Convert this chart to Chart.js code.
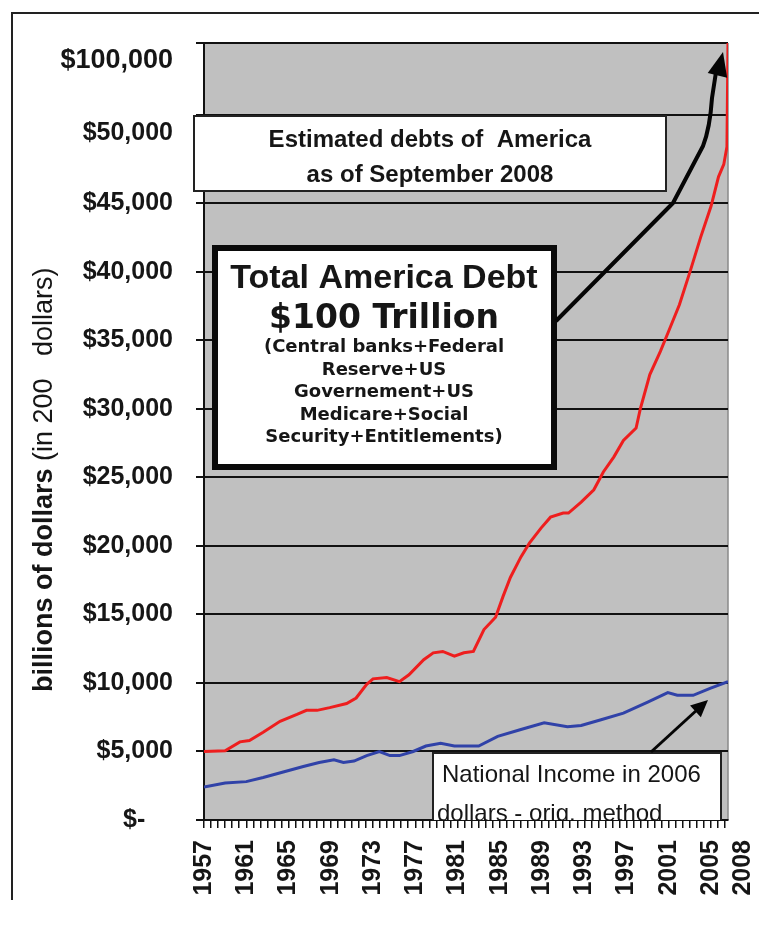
<!DOCTYPE html>
<html>
<head>
<meta charset="utf-8">
<script src="https://cdn.jsdelivr.net/npm/chart.js@4.4.1/dist/chart.umd.min.js"></script>
<style>
  html, body { margin: 0; padding: 0; background: #fff; }
  canvas { display: block; }
</style>
</head>
<body>
<canvas id="debtChart" width="759" height="925"></canvas>
<script>
// ==========================================
// Total America Debt vs National Income
// values in billions of dollars
// ==========================================

const debtYears = [1957, 1959, 1960.4, 1961.3, 1962.6, 1964.2, 1965.8, 1966.7, 1967.7, 1968.9,
    1970.5, 1971.4, 1972.4, 1973, 1974.3, 1975.5, 1976.4, 1977.8, 1978.7, 1979.6,
    1980.7, 1981.6, 1982.5, 1983.5, 1984.6, 1985.3, 1986, 1987, 1987.8, 1988.9,
    1989.8, 1991, 1991.5, 1992.7, 1993.9, 1994.8, 1995.8, 1996.7, 1997.9, 1998.3,
    1999.2, 2000.2, 2001, 2002, 2003, 2004, 2005, 2005.7, 2006.2, 2006.5, 2006.6];
const debtValues = [5000, 5050, 5700, 5800, 6400, 7200, 7700, 8000, 8000, 8200,
    8500, 8900, 9900, 10300, 10400, 10100, 10600, 11700, 12200, 12300,
    11950, 12200, 12300, 13900, 14800, 16300, 17700, 19200, 20200, 21300,
    22100, 22400, 22400, 23200, 24100, 25400, 26500, 27700, 28600, 30000,
    32500, 34200, 35700, 37600, 40000, 42500, 44800, 46500, 47200, 48200, 100000];

const incomeYears = [1957, 1959, 1961, 1962.6, 1964.5, 1966.4, 1967.9, 1969.3, 1970.2, 1971.2,
    1972.4, 1973.6, 1974.6, 1975.5, 1976.8, 1978, 1979.4, 1980.7, 1983, 1984.8,
    1987, 1989.2, 1991.4, 1992.7, 1994.5, 1996.7, 1999, 2000.9, 2001.8, 2003.3,
    2004.9, 2006.6];
const incomeValues = [2400, 2700, 2800, 3100, 3500, 3900, 4200, 4400, 4200, 4300,
    4700, 5000, 4700, 4700, 5000, 5400, 5600, 5400, 5400, 6100,
    6600, 7100, 6800, 6900, 7300, 7800, 8600, 9300, 9100, 9100,
    9600, 10100];

const yearLabels = ['1957', '1961', '1965', '1969', '1973', '1977', '1981', '1985',
    '1989', '1993', '1997', '2001', '2005', '2008'];
const gridValues = [0, 5000, 10000, 15000, 20000, 25000, 30000, 35000, 40000, 45000, 50000, 100000];
const valueLabels = ['$-', '$5,000', '$10,000', '$15,000', '$20,000', '$25,000', '$30,000',
    '$35,000', '$40,000', '$45,000', '$50,000', '$100,000'];

// value axis is broken above $45,000 (45k->50k and 50k->100k get squeezed)
const axisBreaks = [[0, 0], [45000, 9], [50000, 10.29], [100000, 11.34]];
const toAxis = (v) => {
    for (let i = 1; i < axisBreaks.length; i++) {
        const [v0, u0] = axisBreaks[i - 1];
        const [v1, u1] = axisBreaks[i];
        if (v <= v1 || i === axisBreaks.length - 1) return u0 + (v - v0) / (v1 - v0) * (u1 - u0);
    }
};

const SANS = "'Liberation Sans', Arial, sans-serif";
const WIDE = "'DejaVu Sans', Verdana, sans-serif";
const ink = '#161616';

// minor tick marks along the year axis + the odd 2008 label
const xTicks = [];
for (let k = 0; 1957 + k * 2 / 3 <= 2006.6 + 1e-6; k++) xTicks.push(1957 + k * 2 / 3);
xTicks.push(2008);

const noPadding = (s) => {
    s.paddingLeft = 0;
    s.paddingRight = 0;
    s.paddingTop = 0;
    s.paddingBottom = 0;
};

const arrowHead = (c, fx, fy, tx, ty, len, half) => {
    const d = Math.hypot(tx - fx, ty - fy);
    const ux = (tx - fx) / d, uy = (ty - fy) / d;
    const bx = tx - ux * len, by = ty - uy * len;
    c.beginPath();
    c.moveTo(tx, ty);
    c.lineTo(bx - uy * half, by + ux * half);
    c.lineTo(bx + uy * half, by - ux * half);
    c.closePath();
    c.fill();
};

// plot background + outer frame + y title
const decor = {
    id: 'decor',
    beforeDraw(chart) {
        const { ctx: c, chartArea: a } = chart;
        c.save();
        c.fillStyle = '#c0c0c0';
        c.fillRect(a.left, a.top, a.right - a.left, a.bottom - a.top);
        c.strokeStyle = '#8a8a8a';
        c.lineWidth = 1.5;
        c.beginPath();
        c.moveTo(a.right, a.top);
        c.lineTo(a.right, a.bottom);
        c.stroke();
        c.restore();
    },
    afterDraw(chart) {
        const c = chart.ctx;
        c.save();
        c.strokeStyle = '#222';
        c.lineWidth = 2;
        c.beginPath();
        c.moveTo(759, 13);
        c.lineTo(12, 13);
        c.lineTo(12, 900);
        c.stroke();

        c.translate(52, 692);
        c.rotate(-Math.PI / 2);
        c.fillStyle = ink;
        c.textAlign = 'left';
        c.textBaseline = 'alphabetic';
        c.font = 'bold 27px ' + SANS;
        const first = 'billions of dollars ';
        c.fillText(first, 0, 0);
        const w = c.measureText(first).width;
        c.font = '27px ' + SANS;
        c.fillText('(in 200   dollars)', w, 0);
        c.restore();
    }
};

// text boxes and arrows
const notes = {
    id: 'notes',
    afterDatasetsDraw(chart) {
        const { ctx: c, chartArea: a } = chart;
        c.save();
        c.fillStyle = ink;
        c.textAlign = 'center';
        c.textBaseline = 'alphabetic';

        // Estimated debts box
        c.fillStyle = '#fff';
        c.fillRect(193, 115, 474, 77);
        c.strokeStyle = '#222';
        c.lineWidth = 2;
        c.strokeRect(194, 116, 472, 75);
        c.fillStyle = ink;
        c.font = 'bold 24px ' + SANS;
        c.fillText('Estimated debts of  America', 430, 147);
        c.fillText('as of September 2008', 430, 182);

        // Total debt box
        c.fillStyle = '#fff';
        c.fillRect(212, 245, 345, 225);
        c.strokeStyle = '#0a0a0a';
        c.lineWidth = 6;
        c.strokeRect(215, 248, 339, 219);
        c.fillStyle = ink;
        c.font = 'bold 34px ' + SANS;
        c.fillText('Total America Debt', 384, 288);
        c.font = 'bold 33px ' + WIDE;
        c.fillText('$100 Trillion', 384, 328);
        c.font = 'bold 18px ' + WIDE;
        ['(Central banks+Federal', 'Reserve+US', 'Governement+US', 'Medicare+Social',
            'Security+Entitlements)'].forEach((t, i) => c.fillText(t, 384, 352 + i * 22.5));

        // National income box, cut off by the axis
        c.save();
        c.beginPath();
        c.rect(a.left, a.top, a.right - a.left, a.bottom - a.top);
        c.clip();
        c.fillStyle = '#fff';
        c.fillRect(432, 752, 290, 80);
        c.strokeStyle = '#222';
        c.lineWidth = 2;
        c.strokeRect(433, 753, 288, 80);
        c.fillStyle = ink;
        c.textAlign = 'left';
        c.font = '24px ' + SANS;
        c.fillText('National Income in 2006', 442, 782);
        c.fillText('dollars - orig. method', 437, 821);
        c.restore();

        // arrows
        c.strokeStyle = '#050505';
        c.fillStyle = '#050505';
        c.lineWidth = 4;
        c.lineJoin = 'round';
        c.beginPath();
        c.moveTo(556, 321);
        c.lineTo(673, 203);
        c.lineTo(703, 146);
        c.quadraticCurveTo(710, 128, 712, 98);
        c.lineTo(716, 72);
        c.stroke();
        arrowHead(c, 712, 98, 723, 52, 24, 10);

        c.lineWidth = 3;
        c.beginPath();
        c.moveTo(651, 752);
        c.lineTo(698, 709);
        c.stroke();
        arrowHead(c, 651, 752, 708, 700, 17, 8);
        c.restore();
    }
};

new Chart(document.getElementById('debtChart'), {
    type: 'line',
    data: {
        datasets: [{
            label: 'Total America Debt',
            data: debtYears.map((x, i) => ({ x, y: toAxis(debtValues[i]) })),
            borderColor: 'rgb(238, 30, 30)',
            borderWidth: 3,
            pointRadius: 0,
            tension: 0,
            xAxisID: 'x',
            yAxisID: 'yGrid'
        }, {
            label: 'National Income',
            data: incomeYears.map((x, i) => ({ x, y: toAxis(incomeValues[i]) })),
            borderColor: 'rgb(48, 66, 168)',
            borderWidth: 3,
            pointRadius: 0,
            tension: 0,
            xAxisID: 'x',
            yAxisID: 'yGrid'
        }]
    },
    options: {
        responsive: false,
        animation: false,
        events: [],
        layout: { padding: { top: 43, right: 31, left: 0, bottom: 0 } },
        plugins: { legend: { display: false }, tooltip: { enabled: false } },
        scales: {
            x: {
                type: 'linear',
                position: 'bottom',
                min: 1957,
                max: 2006.6,
                afterBuildTicks: (s) => { s.ticks = xTicks.map(v => ({ value: v })); },
                afterFit: (s) => { s.height = 105; noPadding(s); },
                ticks: {
                    autoSkip: false,
                    minRotation: 90,
                    maxRotation: 90,
                    padding: 12,
                    color: ink,
                    font: { family: SANS, size: 25, weight: 'bold' },
                    callback: (v) => yearLabels.find(l => Math.abs(Number(l) - v) < 0.01) || ''
                },
                grid: {
                    drawOnChartArea: false,
                    drawTicks: true,
                    tickLength: 8,
                    color: '#111',
                    // the 2008 label sits past the plot edge, no mark for it
                    tickColor: (ctx) => ctx.tick && ctx.tick.value > 2007 ? 'rgba(0,0,0,0)' : '#111',
                    lineWidth: 1.5
                },
                border: { color: '#111', width: 2 }
            },
            yGrid: {
                type: 'linear',
                position: 'left',
                weight: 0,
                min: 0,
                max: toAxis(100000),
                afterBuildTicks: (s) => { s.ticks = gridValues.map(v => ({ value: toAxis(v) })); },
                afterFit: (s) => { s.width = 8; noPadding(s); },
                ticks: { display: false, autoSkip: false },
                grid: { color: '#111', lineWidth: 2, tickLength: 8, drawTicks: true },
                border: { color: '#111', width: 2 }
            },
            yLab: {
                type: 'linear',
                position: 'left',
                weight: 1,
                min: 0,
                max: toAxis(100000),
                // labels of the squeezed levels sit a bit below their lines
                afterBuildTicks: (s) => {
                    s.ticks = gridValues.map(v => ({ value: toAxis(v) - (v > 45000 ? 0.26 : 0) }));
                },
                afterFit: (s) => { s.width = 196; noPadding(s); },
                ticks: {
                    autoSkip: false,
                    padding: 23,
                    color: ink,
                    font: (ctx) => ({ family: SANS, size: ctx.index === 11 ? 27 : 25, weight: 'bold' }),
                    callback: (v, i) => valueLabels[i] === '$-' ? '$-    ' : valueLabels[i]
                },
                grid: { display: false, drawTicks: false },
                border: { display: false }
            }
        }
    },
    plugins: [decor, notes]
});
</script>
</body>
</html>
